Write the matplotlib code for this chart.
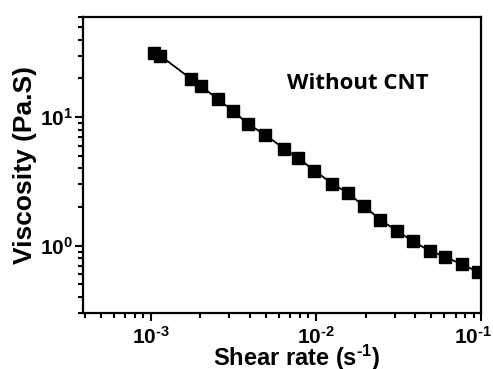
import numpy as np
import matplotlib
matplotlib.use('Agg')
import matplotlib.pyplot as plt
import matplotlib.transforms as mtransforms
from matplotlib.ticker import FixedLocator, LogLocator, NullFormatter

plt.rcParams['font.family'] = ['Liberation Sans', 'DejaVu Sans']
plt.rcParams['mathtext.fontset'] = 'custom'
plt.rcParams['mathtext.rm'] = 'Liberation Sans:bold'
plt.rcParams['mathtext.bf'] = 'Liberation Sans:bold'
plt.rcParams['mathtext.it'] = 'Liberation Sans:bold'

# shear rate (1/s) and viscosity (Pa.s)
shear_rate = [0.00105, 0.00114, 0.00175, 0.00203, 0.00255, 0.00314, 0.00389,
              0.00495, 0.00643, 0.00782, 0.00977, 0.01256, 0.0156, 0.0196,
              0.0245, 0.0308, 0.0387, 0.0489, 0.0608, 0.0763, 0.0955]
viscosity = [31.6, 30.1, 19.9, 17.3, 13.8, 11.2, 8.84, 7.25, 5.67, 4.80,
             3.84, 3.04, 2.56, 2.03, 1.59, 1.31, 1.08, 0.91, 0.817, 0.716, 0.627]

x_ticks = [1e-3, 1e-2, 1e-1]
x_ticklabels = [r'$10^{\text{-}3}$', r'$10^{\text{-}2}$', r'$10^{\text{-}1}$']
y_ticks = [1, 10]
y_ticklabels = [r'$10^{0}$', r'$10^{1}$']

fig = plt.figure(figsize=(4.93, 3.69), dpi=100)
ax = fig.add_axes([0.168, 0.152, 0.808, 0.802])

ax.plot(shear_rate, viscosity, '-', color='black', lw=1.3,
        marker='s', ms=8.6, mfc='black', mec='black')

ax.set_xscale('log')
ax.set_yscale('log')
ax.set_xlim(10**-3.41, 0.1)
ax.set_ylim(0.3, 60)

ax.xaxis.set_major_locator(FixedLocator(x_ticks))
ax.set_xticklabels(x_ticklabels)
ax.yaxis.set_major_locator(FixedLocator(y_ticks))
ax.set_yticklabels(y_ticklabels)
ax.xaxis.set_minor_locator(LogLocator(base=10, subs=np.arange(2, 10)))
ax.yaxis.set_minor_locator(LogLocator(base=10, subs=np.arange(2, 10)))
ax.xaxis.set_minor_formatter(NullFormatter())
ax.yaxis.set_minor_formatter(NullFormatter())

ax.tick_params(which='both', direction='out', top=False, right=False, width=1.5)
ax.tick_params(which='major', length=6, labelsize=15)
ax.tick_params(axis='x', which='major', pad=3)
ax.tick_params(axis='y', which='major', pad=1)
ax.tick_params(which='minor', length=3.5)
for s in ax.spines.values():
    s.set_linewidth(1.6)

# last x label sits a bit left of its tick so it stays inside the figure
lab = ax.get_xticklabels()[-1]
lab.set_transform(lab.get_transform() + mtransforms.ScaledTranslation(-8/100, 0, fig.dpi_scale_trans))

ax.set_xlabel(r'Shear rate (s$^{\text{-}1}$)', fontsize=17, fontweight='bold')
ax.xaxis.set_label_coords(0.537, -0.1)
ax.set_ylabel('Viscosity (Pa.S)', fontsize=19, fontweight='bold', labelpad=2)

ax.text(0.69, 0.775, 'Without CNT', transform=ax.transAxes, fontsize=16,
        fontweight='bold', family=['Open Sans', 'DejaVu Sans'], ha='center', va='center')

fig.savefig('out.png', dpi=100)
